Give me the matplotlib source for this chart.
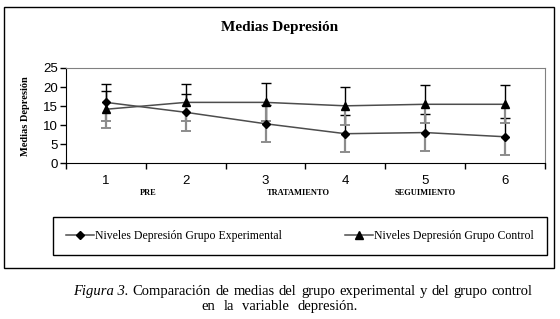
import matplotlib
matplotlib.use('Agg')
import matplotlib.pyplot as plt
from matplotlib.patches import Rectangle
import numpy as np

# datos
sesiones = [1, 2, 3, 4, 5, 6]
exp_media = [16.0, 13.4, 10.4, 7.8, 8.1, 7.0]
exp_de = [4.9, 4.9, 4.9, 4.9, 4.85, 4.9]
ctrl_media = [14.2, 16.0, 16.0, 15.1, 15.5, 15.5]
ctrl_de = [4.85, 4.85, 5.0, 4.95, 4.95, 4.95]
fases = ['PRE', 'TRATAMIENTO', 'SEGUIMIENTO']
fases_pos = [1.53, 3.41, 5.0]
yticks = [0, 5, 10, 15, 20, 25]
leyenda = ['Niveles Depresión Grupo Experimental', 'Niveles Depresión Grupo Control']
pie1 = ['Figura 3.', 'Comparación', 'de', 'medias', 'del', 'grupo', 'experimental', 'y', 'del', 'grupo', 'control']
pie2 = ['en', 'la', 'variable', 'depresión.']

serif = 'Liberation Serif'
sans = 'Liberation Sans'

W, H = 560, 319
fig = plt.figure(figsize=(W/100, H/100), dpi=100)
fig.patch.set_facecolor('white')

# marco exterior del grafico
fig.patches.append(Rectangle((4/W, 1-268/H), 550/W, 261/H, transform=fig.transFigure,
                             fill=False, edgecolor='black', linewidth=1))

ax = fig.add_axes([66/W, 1-163.5/H, 479/W, 95.5/H])

x = np.array(sesiones)
for media, de in [(np.array(exp_media), np.array(exp_de)), (np.array(ctrl_media), np.array(ctrl_de))]:
    ax.vlines(x, media, media + de, colors='black', linewidth=1, zorder=2)
    ax.vlines(x, media - de, media, colors='#8c8c8c', linewidth=1.6, zorder=2)
    ax.scatter(x, media + de, marker='_', s=60, color='black', linewidths=1, zorder=2)
    ax.scatter(x, media - de, marker='_', s=60, color='#8c8c8c', linewidths=1.4, zorder=2)

l1, = ax.plot(x, exp_media, color='#4d4d4d', lw=1.1, marker='D', ms=4.5,
              mfc='black', mec='black', zorder=3)
l2, = ax.plot(x, ctrl_media, color='#4d4d4d', lw=1.1, marker='^', ms=6,
              mfc='black', mec='black', zorder=3)

ax.set_xlim(0.5, 6.5)
ax.set_ylim(0, 25)
ax.set_xticks(np.arange(0.5, 7, 1))
ax.set_xticklabels([])
ax.set_xticks(x, minor=True)
ax.set_xticklabels([str(s) for s in sesiones], minor=True, fontfamily=sans, fontsize=9.5)
ax.tick_params(axis='x', which='major', direction='out', length=4, width=1)
ax.tick_params(axis='x', which='minor', length=0, pad=8)
ax.set_yticks(yticks)
ax.set_yticklabels([str(v) for v in yticks], fontfamily=sans, fontsize=9.5)
ax.tick_params(axis='y', direction='out', length=4, width=1, pad=2)

for s in ['top', 'right']:
    ax.spines[s].set_color('#808080')
for s in ['left', 'bottom']:
    ax.spines[s].set_color('black')

ax.set_ylabel('Medias Depresión', fontfamily=serif, fontweight='bold', fontsize=7.5, labelpad=9)

for f, p in zip(fases, fases_pos):
    ax.text(p, -7.6, f, ha='center', va='center', fontfamily=serif, fontweight='bold', fontsize=6)

fig.text(280/W, 1-28/H, 'Medias Depresión', ha='center', va='center',
         fontfamily=serif, fontweight='bold', fontsize=11)

leg = fig.legend([l1, l2], leyenda, loc='center', ncol=2, mode='expand',
                 bbox_to_anchor=(47/W, 1-255.5/H, 506/W, 39/H),
                 frameon=True, fancybox=False, edgecolor='black', framealpha=1,
                 prop={'family': serif, 'size': 8.5}, handlelength=2.4, handletextpad=0.1,
                 borderpad=1.1)
leg.get_frame().set_linewidth(1)


def justificar(palabras, x0, x1, y):
    # coloca las palabras repartiendo el espacio sobrante entre ellas
    txts = []
    for w in palabras:
        estilo = 'italic' if w.startswith('Figura') else 'normal'
        txts.append(fig.text(0, y, w, ha='left', va='baseline', fontfamily=serif,
                             fontstyle=estilo, fontsize=10.5))
    fig.canvas.draw()
    r = fig.canvas.get_renderer()
    anchos = [t.get_window_extent(r).width for t in txts]
    hueco = (x1 - x0 - sum(anchos)) / max(len(txts) - 1, 1)
    pos = x0
    for t, a in zip(txts, anchos):
        t.set_x(pos / W)
        pos += a + hueco


justificar(pie1, 73, 533, 1-295/H)
justificar(pie2, 201, 358, 1-310/H)

fig.savefig('out.png', dpi=100)
